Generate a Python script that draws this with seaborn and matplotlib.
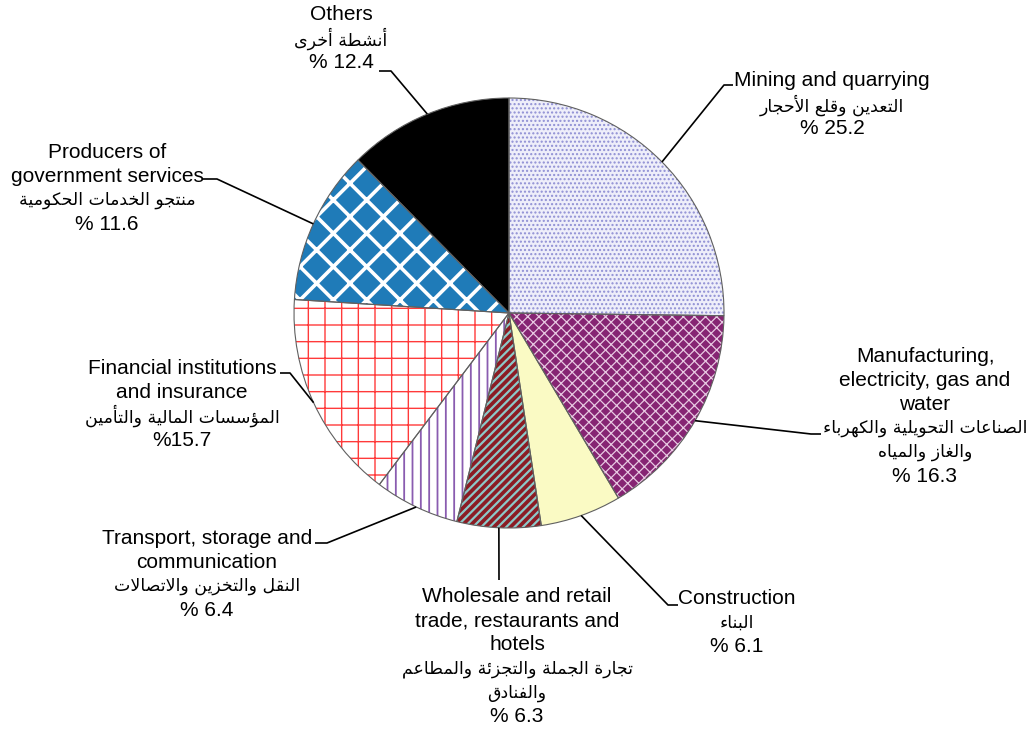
import numpy as np
import pandas as pd
import seaborn as sns
import matplotlib.pyplot as plt

# ---- data (clockwise from 12 o'clock) ----
sectors_en = [
    ["Mining and quarrying"],
    ["Manufacturing,", "electricity, gas and", "water"],
    ["Construction"],
    ["Wholesale and retail", "trade, restaurants and", "hotels"],
    ["Transport, storage and", "communication"],
    ["Financial institutions", "and insurance"],
    ["Producers of", "government services"],
    ["Others"],
]
sectors_ar = [
    ["التعدين وقلع الأحجار"],
    ["الصناعات التحويلية والكهرباء", "والغاز والمياه"],
    ["البناء"],
    ["تجارة الجملة والتجزئة والمطاعم", "والفنادق"],
    ["النقل والتخزين والاتصالات"],
    ["المؤسسات المالية والتأمين"],
    ["منتجو الخدمات الحكومية"],
    ["أنشطة أخرى"],
]
shares = [25.2, 16.3, 6.1, 6.3, 6.4, 15.7, 11.6, 12.4]
pct_labels = ["% 25.2", "% 16.3", "% 6.1", "% 6.3", "% 6.4", "%15.7", "% 11.6", "% 12.4"]

# ---- styles ----
face_colors = ["#eeeefa", "#862473", "#fafac4", "#8b1c24", "#ffffff", "#ffffff", "#1f7bb8", "#000000"]
hatch_colors = ["#8f8fd4", "#e8c8e2", "#fafac4", "#8cc8c8", "#8a5cb0", "#ff3a3a", "#ffffff", "#000000"]
hatches = ["....", "xxx", None, "////", "||", "+", "x", None]
hatch_lw = [1.0, 0.9, 1.0, 1.6, 1.3, 1.0, 2.6, 1.0]

# label layout in pixel coords: centre x, first line y
label_pos = [(832, 81), (925, 356), (737, 599), (517, 597), (207, 538), (182, 368), (107, 152), (341, 15)]
# leader elbows (pixel coords), ending at the wedge
leader_pts = [
    [(733, 85), (724, 85)],
    [(821, 434), (811, 434)],
    [(678, 605), (668, 605)],
    [(499, 580)],
    [(315, 543), (327, 543)],
    [(280, 373), (290, 373)],
    [(203, 179), (217, 179)],
    [(379, 71), (391, 71)],
]

W, H = 1032, 733
CX, CY, R = 509, 313, 215


def shape_arabic(text):
    """Minimal Arabic shaping into presentation forms, visual order."""
    forms = {
        "\u0621": (0xFE80, 1), "\u0622": (0xFE81, 2), "\u0623": (0xFE83, 2),
        "\u0624": (0xFE85, 2), "\u0625": (0xFE87, 2), "\u0626": (0xFE89, 4),
        "\u0627": (0xFE8D, 2), "\u0628": (0xFE8F, 4), "\u0629": (0xFE93, 2),
        "\u062A": (0xFE95, 4), "\u062B": (0xFE99, 4), "\u062C": (0xFE9D, 4),
        "\u062D": (0xFEA1, 4), "\u062E": (0xFEA5, 4), "\u062F": (0xFEA9, 2),
        "\u0630": (0xFEAB, 2), "\u0631": (0xFEAD, 2), "\u0632": (0xFEAF, 2),
        "\u0633": (0xFEB1, 4), "\u0634": (0xFEB5, 4), "\u0635": (0xFEB9, 4),
        "\u0636": (0xFEBD, 4), "\u0637": (0xFEC1, 4), "\u0638": (0xFEC5, 4),
        "\u0639": (0xFEC9, 4), "\u063A": (0xFECD, 4), "\u0641": (0xFED1, 4),
        "\u0642": (0xFED5, 4), "\u0643": (0xFED9, 4), "\u0644": (0xFEDD, 4),
        "\u0645": (0xFEE1, 4), "\u0646": (0xFEE5, 4), "\u0647": (0xFEE9, 4),
        "\u0648": (0xFEED, 2), "\u0649": (0xFEEF, 2), "\u064A": (0xFEF1, 4),
    }
    lamalef = {"\u0622": 0xFEF5, "\u0623": 0xFEF7, "\u0625": 0xFEF9, "\u0627": 0xFEFB}
    toks = []
    i = 0
    while i < len(text):
        c = text[i]
        if c == "\u0644" and i + 1 < len(text) and text[i + 1] in lamalef:
            toks.append(("LA", text[i + 1]))
            i += 2
        else:
            toks.append((c, None))
            i += 1

    def nforms(t):
        if t[0] == "LA":
            return 2
        return forms.get(t[0], (0, 0))[1]

    out = []
    for k, t in enumerate(toks):
        n = nforms(t)
        prev_n = nforms(toks[k - 1]) if k > 0 else 0
        next_n = nforms(toks[k + 1]) if k + 1 < len(toks) else 0
        jp = n >= 2 and prev_n == 4
        jn = n == 4 and next_n >= 2
        if t[0] == "LA":
            out.append(chr(lamalef[t[1]] + (1 if jp else 0)))
        elif n == 0:
            out.append(t[0])
        else:
            base = forms[t[0]][0]
            if n == 1:
                idx = 0
            elif n == 2:
                idx = 1 if jp else 0
            else:
                idx = 3 if (jp and jn) else 1 if jp else 2 if jn else 0
            out.append(chr(base + idx))
    return "".join(out)[::-1]


sns.set_theme(style="white")
plt.rcParams["font.family"] = ["Liberation Sans", "DejaVu Sans"]

fig = plt.figure(figsize=(W / 100, H / 100), dpi=100)
ax = fig.add_axes([0, 0, 1, 1])

df = pd.DataFrame({"share": shares, "pct": pct_labels})

wedges, _ = ax.pie(df["share"], startangle=90, counterclock=False,
                   center=(CX, H - CY), radius=R, frame=True,
                   colors=face_colors,
                   wedgeprops=dict(linewidth=0))
for w, hc, h, hl in zip(wedges, hatch_colors, hatches, hatch_lw):
    w.set_edgecolor(hc)
    if h:
        w.set_hatch(h)
        if hasattr(w, "set_hatch_linewidth"):
            w.set_hatch_linewidth(hl)
# outlines
ax.pie(df["share"], startangle=90, counterclock=False, center=(CX, H - CY),
       radius=R, frame=True, colors=["none"] * len(shares),
       wedgeprops=dict(linewidth=0.8, edgecolor="#606060", fill=False))

ax.set_xlim(0, W)
ax.set_ylim(0, H)
ax.set_axis_off()

step = 24
for k, w in enumerate(wedges):
    mid = np.deg2rad((w.theta1 + w.theta2) / 2)
    ex, ey = CX + R * np.cos(mid), (H - CY) + R * np.sin(mid)
    pts = [(x, H - y) for x, y in leader_pts[k]] + [(ex, ey)]
    ax.plot([p[0] for p in pts], [p[1] for p in pts], color="black", lw=1.2,
            solid_capstyle="butt", zorder=3)

    x0, y0 = label_pos[k]
    y = y0
    for line in sectors_en[k]:
        ax.text(x0, H - y, line, fontsize=15, ha="center", va="center", color="black", zorder=4)
        y += step
    for line in sectors_ar[k]:
        ax.text(x0, H - y, shape_arabic(line), fontsize=12.5, ha="center", va="center",
                color="black", family=["DejaVu Sans"], zorder=4)
        y += step
    ax.text(x0, H - y, df["pct"][k], fontsize=15, ha="center", va="center", color="black", zorder=4)

fig.savefig("out.png", dpi=100)
